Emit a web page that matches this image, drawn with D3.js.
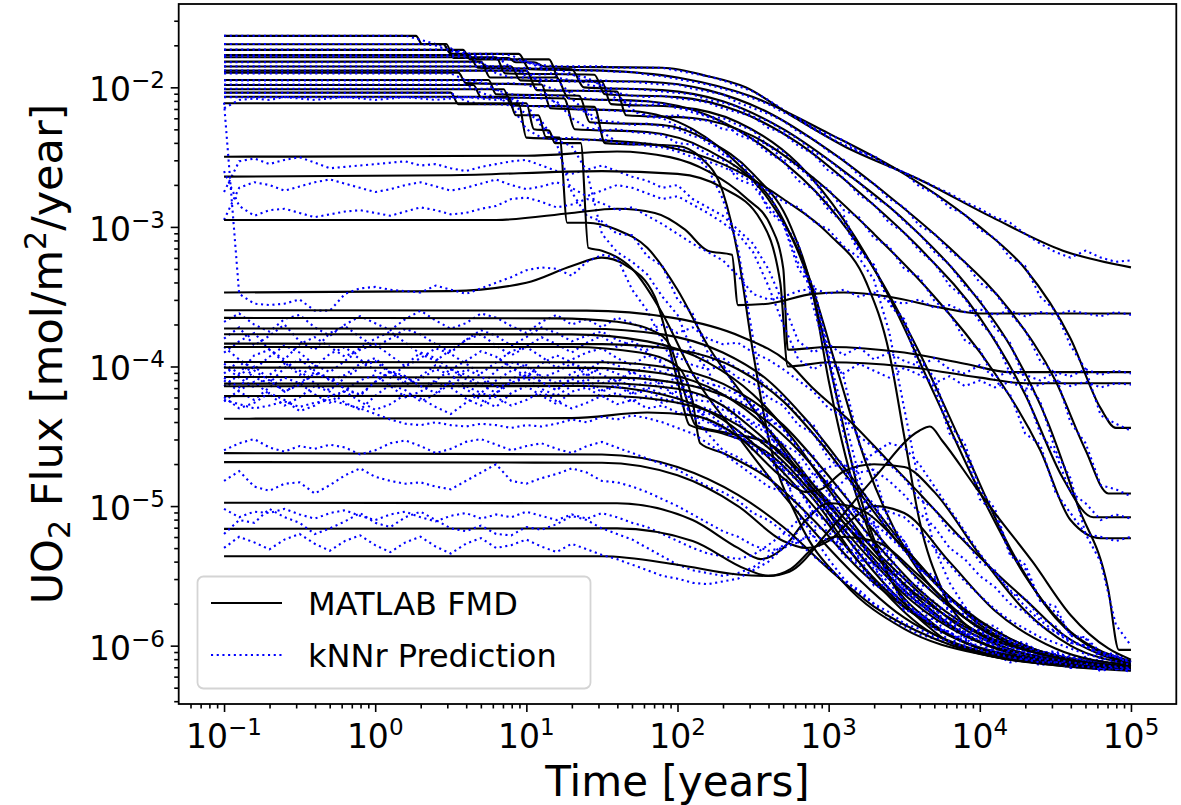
<!DOCTYPE html>
<html><head><meta charset="utf-8">
<script src="https://cdn.jsdelivr.net/npm/d3@7"></script>
<style>body{margin:0;background:#fff}svg{display:block}text{font-family:"DejaVu Sans",sans-serif;fill:#000}</style>
</head><body><svg id="c" width="1181" height="805"></svg>
<script>
// ---------- axis settings ----------
const xTickExps = [-1, 0, 1, 2, 3, 4, 5];
const yTickExps = [-6, -5, -4, -3, -2];
const xDomainLog = [-1.3, 5.3];
const yDomainLog = [-6.418, -1.403];
const xLabel = "Time [years]";
const legendLabels = ["MATLAB FMD", "kNNr Prediction"];

// ---------- kNNr prediction time grid (log10 years) ----------
const knnLogTime = [-1.0,-0.9,-0.8,-0.7,-0.6,-0.5,-0.4,-0.3,-0.2,-0.1,0.0,0.1,0.2,0.3,0.4,0.5,0.6,0.7,0.8,0.9,1.0,1.1,1.2,1.3,1.4,1.5,1.6,1.7,1.8,1.9,2.0,2.1,2.2,2.3,2.4,2.5,2.6,2.7,2.8,2.9,3.0,3.1,3.2,3.3,3.4,3.5,3.6,3.7,3.8,3.9,4.0,4.1,4.2,4.3,4.4,4.5,4.6,4.7,4.8,4.9,5.0];

// ---------- MATLAB FMD curves: [log10 years, log10 flux] ----------
const fmdHigh = [
 [[-1,-1.631],[0.27,-1.631],[0.31,-1.69],[0.47,-1.69],[0.52,-1.79],[0.88,-1.79],[0.93,-1.82],[1.05,-1.82],[1.12,-1.851],[1.9,-1.86],[2.2,-1.92],[2.45,-2.0],[2.75,-2.2],[3.1,-2.42],[3.6,-2.66],[4.08,-2.93],[4.55,-3.17],[5,-3.29]],
 [[-1,-1.691],[0.45,-1.691],[0.5,-1.76],[0.95,-1.76],[1.02,-1.87],[1.5,-1.88],[2.0,-1.93],[2.5,-2.07],[3.0,-2.33],[3.5,-2.62],[4.0,-3.0],[4.3,-3.3],[4.6,-3.8],[4.8,-4.3],[4.9,-4.44],[5,-4.44]],
 [[-1,-1.732],[0.58,-1.732],[0.63,-1.80],[1.15,-1.80],[1.22,-1.95],[1.8,-1.96],[2.2,-2.02],[2.6,-2.18],[3.0,-2.45],[3.4,-2.78],[3.8,-3.15],[4.2,-3.6],[4.5,-4.1],[4.7,-4.6],[4.85,-4.91],[5,-4.91]],
 [[-1,-1.768],[0.62,-1.768],[0.68,-1.86],[1.3,-1.87],[1.38,-2.0],[1.9,-2.02],[2.3,-2.1],[2.7,-2.3],[3.1,-2.6],[3.5,-2.95],[3.9,-3.4],[4.2,-3.85],[4.45,-4.4],[4.65,-5.0],[4.85,-5.6],[4.92,-6.03],[5,-6.03]],
 [[-1,-1.784],[0.8,-1.784],[0.86,-1.9],[1.45,-1.91],[1.52,-2.05],[2.0,-2.07],[2.4,-2.17],[2.8,-2.4],[3.2,-2.75],[3.6,-3.15],[4.0,-3.65],[4.3,-4.2],[4.55,-4.8],[4.75,-5.08],[5,-5.08]],
 [[-1,-1.816],[0.7,-1.816],[0.76,-1.93],[1.2,-1.93],[1.28,-2.08],[1.8,-2.1],[2.2,-2.2],[2.6,-2.45],[3.0,-2.85],[3.3,-3.3],[3.6,-3.9],[3.9,-4.6],[4.2,-5.3],[4.5,-5.8],[4.8,-6.05],[5,-6.12]],
 [[-1,-1.851],[0.9,-1.851],[0.96,-1.95],[1.5,-1.96],[1.56,-2.12],[2.0,-2.14],[2.4,-2.25],[2.8,-2.55],[3.1,-2.95],[3.4,-3.5],[3.7,-4.2],[4.0,-4.9],[4.3,-5.5],[4.6,-5.9],[4.9,-6.08],[5,-6.11]],
 [[-1,-1.88],[1.0,-1.88],[1.07,-2.02],[1.6,-2.03],[1.66,-2.2],[2.1,-2.22],[2.5,-2.35],[2.9,-2.65],[3.3,-3.05],[3.7,-3.5],[4.1,-4.05],[4.4,-4.6],[4.6,-5.1],[4.8,-5.23],[5,-5.23]],
 [[-1,-1.895],[0.55,-1.895],[0.6,-1.97],[1.1,-1.98],[1.16,-2.15],[1.7,-2.17],[2.1,-2.3],[2.4,-2.55],[2.7,-2.95],[2.9,-3.5],[3.05,-4.2],[3.2,-4.9],[3.4,-5.5],[3.7,-5.9],[4.1,-6.08],[4.6,-6.14],[5,-6.16]],
 [[-1,-1.947],[0.75,-1.947],[0.8,-2.05],[1.35,-2.06],[1.42,-2.25],[1.9,-2.27],[2.2,-2.38],[2.5,-2.62],[2.75,-3.0],[2.9,-3.5],[3.0,-4.1],[3.15,-4.8],[3.35,-5.4],[3.7,-5.85],[4.2,-6.07],[4.7,-6.14],[5,-6.16]],
 [[-1,-1.983],[0.65,-1.983],[0.7,-2.07],[1.25,-2.08],[1.32,-2.3],[1.8,-2.32],[2.2,-2.45],[2.6,-2.8],[2.85,-3.3],[3.05,-4.0],[3.25,-4.7],[3.5,-5.3],[3.9,-5.8],[4.3,-6.02],[4.8,-6.12],[5,-6.14]],
 [[-1,-2.014],[0.85,-2.014],[0.9,-2.13],[1.45,-2.14],[1.52,-2.4],[2.0,-2.42],[2.15,-2.5],[2.3,-2.75],[2.4,-3.2],[2.5,-3.9],[2.6,-4.5],[2.8,-5.1],[3.1,-5.55],[3.5,-5.88],[4.0,-6.06],[4.6,-6.13],[5,-6.16]],
 [[-1,-2.038],[0.5,-2.038],[0.55,-2.12],[0.95,-2.12],[1.0,-2.36],[1.5,-2.38],[1.9,-2.42],[2.3,-2.55],[2.7,-2.8],[3.0,-3.05],[3.25,-3.4],[3.4,-3.9],[3.5,-4.5],[3.6,-5.1],[3.75,-5.6],[4.0,-5.92],[4.5,-6.1],[5,-6.15]],
 [[-1,-2.067],[0.88,-2.067],[0.93,-2.2],[1.08,-2.2],[1.13,-2.357],[1.22,-2.36],[1.27,-2.97],[1.4,-2.97],[1.6,-3.02],[1.8,-3.15],[2.0,-3.45],[2.2,-3.85],[2.5,-4.3],[2.8,-4.75],[3.1,-5.2],[3.5,-5.7],[4.0,-6.02],[4.5,-6.13],[5,-6.17]],
 [[-1,-2.114],[1.0,-2.114],[1.05,-2.30],[1.15,-2.31],[1.19,-2.40],[1.36,-2.40],[1.41,-3.15],[1.5,-3.17],[1.7,-3.3],[1.9,-3.62],[2.1,-4.05],[2.4,-4.5],[2.7,-4.92],[3.0,-5.3],[3.5,-5.8],[4.0,-6.04],[4.5,-6.14],[5,-6.18]]
];
const fmdMid = [
 [[-1,-2.497],[1.0,-2.49],[1.6,-2.46],[1.95,-2.50],[2.2,-2.6],[2.45,-2.79],[2.62,-3.0],[2.70,-3.3],[2.73,-3.88],[3.0,-3.86],[3.5,-3.9],[3.9,-3.98],[4.2,-4.04],[5,-4.04]],
 [[-1,-2.64],[0.5,-2.63],[1.5,-2.60],[2.0,-2.62],[2.3,-2.72],[2.55,-2.95],[2.68,-3.4],[2.73,-4.0],[3.0,-3.97],[3.5,-4.0],[4.0,-4.08],[4.3,-4.12],[5,-4.12]],
 [[-1,-2.951],[0.8,-2.95],[1.3,-2.9],[1.6,-2.87],[1.85,-2.9],[2.05,-3.02],[2.2,-3.17],[2.36,-3.2],[2.40,-3.56],[2.6,-3.55],[2.9,-3.48],[3.1,-3.47],[3.4,-3.5],[3.75,-3.58],[4.0,-3.62],[5,-3.62]]
];
const fmdLow = [
 [[-1,-3.47],[0.5,-3.46],[1.0,-3.40],[1.3,-3.28],[1.5,-3.22],[1.65,-3.27],[1.85,-3.5],[2.0,-4.1],[2.08,-4.42],[2.3,-4.48],[2.6,-4.62],[2.9,-4.95],[3.2,-5.4],[3.6,-5.85],[4.0,-6.05],[4.5,-6.14],[5,-6.17]],
 [[-1,-3.597],[1.4,-3.60],[1.96,-3.65],[2.43,-3.79],[2.72,-3.96],[2.9,-4.16],[3.14,-4.39],[3.38,-4.66],[3.61,-4.92],[3.85,-5.2],[4.08,-5.45],[4.32,-5.69],[4.55,-5.92],[4.79,-6.06],[5,-6.13]],
 [[-1,-3.652],[1.2,-3.655],[1.6,-3.68],[1.85,-3.75],[1.95,-3.85],[2.05,-4.2],[2.12,-4.42],[2.3,-4.47],[2.6,-4.55],[2.9,-4.85],[3.2,-5.2],[3.5,-5.52],[3.85,-5.85],[4.3,-6.06],[5,-6.16]],
 [[-1,-3.728],[1.4,-3.73],[1.9,-3.77],[2.3,-3.9],[2.6,-4.1],[2.85,-4.38],[3.1,-4.72],[3.35,-5.08],[3.6,-5.42],[3.9,-5.75],[4.3,-6.0],[4.7,-6.11],[5,-6.14]],
 [[-1,-3.769],[1.3,-3.77],[1.8,-3.82],[2.2,-3.97],[2.5,-4.2],[2.75,-4.5],[3.0,-4.88],[3.25,-5.25],[3.55,-5.62],[3.9,-5.92],[4.3,-6.08],[5,-6.16]],
 [[-1,-3.836],[1.5,-3.84],[2.0,-3.88],[2.4,-4.02],[2.7,-4.25],[2.95,-4.55],[3.2,-4.9],[3.45,-5.25],[3.7,-5.55],[4.0,-5.85],[4.4,-6.05],[5,-6.14]],
 [[-1,-3.86],[1.3,-3.86],[1.75,-3.9],[2.0,-4.0],[2.1,-4.25],[2.15,-4.55],[2.3,-4.62],[2.6,-4.8],[2.9,-5.1],[3.2,-5.45],[3.6,-5.8],[4.0,-6.02],[4.5,-6.12],[5,-6.16]],
 [[-1,-3.968],[1.5,-3.97],[2.0,-4.02],[2.4,-4.18],[2.7,-4.42],[2.95,-4.72],[3.2,-5.05],[3.5,-5.42],[3.8,-5.72],[4.2,-5.98],[4.6,-6.1],[5,-6.15]],
 [[-1,-4.008],[1.4,-4.01],[1.9,-4.05],[2.3,-4.2],[2.6,-4.45],[2.85,-4.78],[3.1,-5.12],[3.4,-5.5],[3.75,-5.82],[4.2,-6.05],[4.7,-6.13],[5,-6.16]],
 [[-1,-4.075],[1.6,-4.08],[2.1,-4.14],[2.5,-4.32],[2.8,-4.6],[3.05,-4.92],[3.3,-5.25],[3.6,-5.6],[3.95,-5.88],[4.4,-6.06],[5,-6.15]],
 [[-1,-4.123],[1.5,-4.12],[2.0,-4.16],[2.3,-4.28],[2.5,-4.45],[2.75,-4.7],[3.0,-5.0],[3.3,-5.35],[3.6,-5.65],[4.0,-5.92],[4.5,-6.08],[5,-6.15]],
 [[-1,-4.142],[1.4,-4.14],[1.9,-4.2],[2.3,-4.38],[2.6,-4.65],[2.9,-5.0],[3.2,-5.4],[3.5,-5.72],[3.9,-5.98],[4.4,-6.1],[5,-6.16]],
 [[-1,-4.212],[1.5,-4.21],[2.0,-4.26],[2.4,-4.42],[2.7,-4.68],[2.95,-4.98],[3.25,-5.35],[3.55,-5.68],[3.9,-5.93],[4.4,-6.08],[5,-6.15]],
 [[-1,-4.374],[1.3,-4.37],[1.8,-4.33],[2.1,-4.35],[2.4,-4.5],[2.7,-4.8],[2.85,-4.9],[2.95,-4.88],[3.1,-4.75],[3.3,-4.7],[3.5,-4.72],[3.7,-4.9],[4.0,-5.35],[4.3,-5.75],[4.6,-6.0],[5,-6.13]],
 [[-1,-4.621],[1.5,-4.63],[2.0,-4.72],[2.4,-4.92],[2.7,-5.15],[3.0,-5.45],[3.3,-5.72],[3.7,-5.95],[4.2,-6.1],[5,-6.16]],
 [[-1,-4.685],[1.5,-4.69],[2.0,-4.78],[2.4,-5.0],[2.7,-5.25],[2.85,-5.3],[3.0,-5.25],[3.15,-5.1],[3.3,-5.0],[3.5,-5.05],[3.8,-5.4],[4.1,-5.75],[4.5,-6.02],[5,-6.14]],
 [[-1,-4.976],[1.6,-4.98],[2.1,-5.1],[2.4,-5.3],[2.55,-5.38],[2.7,-5.3],[2.85,-5.1],[3.0,-4.98],[3.2,-5.02],[3.5,-5.3],[3.8,-5.65],[4.2,-5.95],[4.6,-6.1],[5,-6.15]],
 [[-1,-5.163],[1.6,-5.16],[2.1,-5.25],[2.45,-5.45],[2.6,-5.5],[2.75,-5.45],[2.9,-5.3],[3.05,-5.22],[3.3,-5.25],[3.6,-5.5],[3.9,-5.8],[4.3,-6.03],[5,-6.15]],
 [[-1,-5.36],[1.5,-5.36],[2.0,-5.42],[2.4,-5.49],[2.6,-5.5],[2.74,-5.47],[3.0,-5.18],[3.3,-4.8],[3.6,-4.46],[3.67,-4.43],[3.75,-4.53],[3.97,-4.86],[4.1,-5.05],[4.35,-5.4],[4.6,-5.78],[4.85,-6.02],[5,-6.1]]
];

// ---------- kNNr predictions: log10 flux on knnLogTime ----------
const knnHigh = [
 [-1.63,-1.63,-1.63,-1.63,-1.63,-1.63,-1.63,-1.63,-1.63,-1.63,
  -1.63,-1.63,-1.63,-1.66,-1.69,-1.72,-1.79,-1.79,-1.79,-1.80,
  -1.82,-1.84,-1.85,-1.85,-1.85,-1.85,-1.86,-1.86,-1.86,-1.86,
  -1.88,-1.90,-1.92,-1.95,-1.99,-2.03,-2.09,-2.16,-2.23,-2.30,
  -2.36,-2.41,-2.46,-2.51,-2.56,-2.61,-2.66,-2.71,-2.76,-2.82,
  -2.87,-2.93,-2.97,-3.05,-3.12,-3.18,-3.22,-3.17,-3.22,-3.25,-3.24],
 [-1.69,-1.69,-1.69,-1.69,-1.69,-1.69,-1.69,-1.69,-1.69,-1.69,
  -1.69,-1.69,-1.69,-1.69,-1.70,-1.74,-1.76,-1.76,-1.76,-1.77,
  -1.82,-1.86,-1.87,-1.87,-1.88,-1.88,-1.89,-1.89,-1.91,-1.92,
  -1.94,-1.96,-1.98,-2.01,-2.04,-2.08,-2.12,-2.18,-2.22,-2.29,
  -2.34,-2.38,-2.46,-2.49,-2.57,-2.61,-2.71,-2.76,-2.86,-2.91,
  -3.02,-3.08,-3.22,-3.28,-3.50,-3.60,-3.85,-4.02,-4.35,-4.41,-4.46],
 [-1.73,-1.73,-1.73,-1.73,-1.73,-1.73,-1.73,-1.73,-1.73,-1.73,
  -1.73,-1.73,-1.73,-1.73,-1.73,-1.73,-1.75,-1.79,-1.80,-1.80,
  -1.81,-1.85,-1.93,-1.95,-1.96,-1.95,-1.96,-1.96,-1.97,-1.98,
  -1.98,-2.01,-2.03,-2.05,-2.11,-2.15,-2.19,-2.24,-2.32,-2.37,
  -2.46,-2.52,-2.63,-2.69,-2.80,-2.86,-2.99,-3.05,-3.17,-3.25,
  -3.40,-3.47,-3.62,-3.74,-3.96,-4.05,-4.40,-4.55,-4.85,-4.88,-4.93],
 [-1.77,-1.77,-1.77,-1.77,-1.77,-1.77,-1.77,-1.77,-1.77,-1.77,
  -1.77,-1.77,-1.77,-1.77,-1.77,-1.77,-1.77,-1.83,-1.86,-1.87,
  -1.86,-1.87,-1.87,-1.90,-1.98,-2.00,-2.01,-2.01,-2.02,-2.03,
  -2.04,-2.05,-2.09,-2.11,-2.14,-2.21,-2.24,-2.31,-2.37,-2.46,
  -2.52,-2.61,-2.68,-2.79,-2.85,-2.96,-3.05,-3.18,-3.27,-3.42,
  -3.52,-3.72,-3.83,-4.10,-4.25,-4.60,-4.80,-5.20,-5.40,-5.85,-6.00],
 [-1.78,-1.78,-1.78,-1.78,-1.78,-1.78,-1.78,-1.78,-1.78,-1.78,
  -1.78,-1.78,-1.78,-1.78,-1.78,-1.78,-1.78,-1.78,-1.78,-1.86,
  -1.90,-1.91,-1.90,-1.91,-1.93,-1.99,-2.04,-2.06,-2.07,-2.06,
  -2.08,-2.09,-2.11,-2.15,-2.18,-2.21,-2.29,-2.33,-2.42,-2.48,
  -2.60,-2.65,-2.77,-2.84,-2.97,-3.04,-3.17,-3.26,-3.42,-3.51,
  -3.68,-3.80,-4.05,-4.17,-4.48,-4.62,-4.90,-4.98,-5.10,-5.06,-5.09],
 [-1.82,-1.82,-1.82,-1.82,-1.82,-1.82,-1.82,-1.82,-1.82,-1.82,
  -1.82,-1.82,-1.82,-1.82,-1.82,-1.82,-1.82,-1.82,-1.90,-1.93,
  -1.93,-1.94,-1.95,-2.05,-2.08,-2.09,-2.09,-2.10,-2.10,-2.12,
  -2.14,-2.18,-2.21,-2.25,-2.34,-2.38,-2.47,-2.53,-2.67,-2.73,
  -2.88,-2.97,-3.18,-3.27,-3.54,-3.66,-3.95,-4.08,-4.42,-4.55,
  -4.88,-5.02,-5.34,-5.42,-5.68,-5.76,-5.92,-5.95,-6.08,-6.07,-6.13],
 [-1.85,-1.85,-1.85,-1.85,-1.85,-1.85,-1.85,-1.85,-1.85,-1.85,
  -1.85,-1.85,-1.85,-1.85,-1.85,-1.85,-1.85,-1.85,-1.85,-1.85,
  -1.92,-1.95,-1.95,-1.96,-1.95,-1.98,-2.09,-2.12,-2.13,-2.12,
  -2.15,-2.16,-2.21,-2.22,-2.27,-2.31,-2.42,-2.46,-2.58,-2.65,
  -2.85,-2.92,-3.16,-3.28,-3.55,-3.68,-4.02,-4.15,-4.48,-4.60,
  -4.95,-5.05,-5.35,-5.45,-5.68,-5.72,-5.93,-5.94,-6.05,-6.06,-6.12],
 [-1.88,-1.88,-1.88,-1.88,-1.88,-1.88,-1.88,-1.88,-1.88,-1.88,
  -1.88,-1.88,-1.88,-1.88,-1.88,-1.88,-1.88,-1.88,-1.88,-1.88,
  -1.88,-1.98,-2.02,-2.03,-2.02,-2.03,-2.05,-2.16,-2.20,-2.21,
  -2.20,-2.23,-2.24,-2.30,-2.31,-2.37,-2.41,-2.52,-2.55,-2.68,
  -2.73,-2.88,-2.93,-3.08,-3.14,-3.30,-3.36,-3.53,-3.62,-3.81,
  -3.88,-4.10,-4.20,-4.48,-4.56,-4.90,-5.05,-5.20,-5.22,-5.25,-5.22],
 [-1.90,-1.90,-1.90,-1.90,-1.90,-1.90,-1.90,-1.90,-1.90,-1.90,
  -1.90,-1.90,-1.90,-1.90,-1.90,-1.90,-1.95,-1.97,-1.98,-1.97,
  -1.98,-2.02,-2.12,-2.15,-2.16,-2.16,-2.17,-2.17,-2.21,-2.22,
  -2.28,-2.31,-2.40,-2.45,-2.60,-2.64,-2.88,-2.98,-3.30,-3.45,
  -3.92,-4.35,-4.78,-5.12,-5.38,-5.60,-5.72,-5.86,-5.97,-5.96,
  -6.05,-6.06,-6.12,-6.10,-6.14,-6.12,-6.16,-6.13,-6.17,-6.15,-6.16],
 [-1.95,-1.95,-1.95,-1.95,-1.95,-1.95,-1.95,-1.95,-1.95,-1.95,
  -1.95,-1.95,-1.95,-1.95,-1.95,-1.95,-1.95,-1.95,-2.02,-2.05,
  -2.06,-2.05,-2.06,-2.08,-2.18,-2.24,-2.25,-2.27,-2.26,-2.28,
  -2.30,-2.35,-2.37,-2.48,-2.52,-2.66,-2.74,-2.98,-3.12,-3.58,
  -3.95,-4.48,-4.86,-5.18,-5.40,-5.58,-5.68,-5.82,-5.86,-5.95,
  -5.97,-6.04,-6.05,-6.10,-6.09,-6.13,-6.12,-6.15,-6.14,-6.17,-6.16],
 [-1.98,-1.98,-1.98,-1.98,-1.98,-1.98,-1.98,-1.98,-1.98,-1.98,
  -1.98,-1.98,-1.98,-1.98,-1.98,-1.98,-1.98,-2.04,-2.07,-2.08,
  -2.07,-2.08,-2.10,-2.22,-2.29,-2.31,-2.30,-2.32,-2.33,-2.34,
  -2.40,-2.41,-2.48,-2.52,-2.66,-2.70,-2.85,-2.97,-3.26,-3.42,
  -3.88,-4.08,-4.55,-4.76,-5.12,-5.25,-5.46,-5.52,-5.72,-5.78,
  -5.90,-5.89,-6.00,-6.01,-6.07,-6.06,-6.11,-6.09,-6.13,-6.12,-6.15],
 [-2.01,-2.01,-2.01,-2.01,-2.01,-2.01,-2.01,-2.01,-2.01,-2.01,
  -2.01,-2.01,-2.01,-2.01,-2.01,-2.01,-2.01,-2.01,-2.01,-2.10,
  -2.13,-2.14,-2.13,-2.14,-2.18,-2.32,-2.39,-2.41,-2.40,-2.42,
  -2.43,-2.47,-2.58,-2.80,-3.15,-3.80,-4.40,-4.75,-5.05,-5.22,
  -5.38,-5.52,-5.62,-5.70,-5.80,-5.86,-5.92,-5.95,-5.99,-6.02,
  -6.05,-6.06,-6.09,-6.10,-6.12,-6.11,-6.14,-6.13,-6.15,-6.14,-6.16],
 [-2.04,-2.04,-2.04,-2.04,-2.04,-2.04,-2.04,-2.04,-2.04,-2.04,
  -2.04,-2.04,-2.04,-2.04,-2.04,-2.04,-2.10,-2.12,-2.12,-2.13,
  -2.30,-2.36,-2.37,-2.36,-2.38,-2.37,-2.40,-2.40,-2.42,-2.43,
  -2.46,-2.50,-2.53,-2.57,-2.62,-2.68,-2.74,-2.82,-2.86,-2.96,
  -3.02,-3.14,-3.22,-3.38,-3.75,-4.30,-4.85,-5.30,-5.55,-5.72,
  -5.88,-5.95,-6.01,-6.04,-6.08,-6.09,-6.12,-6.11,-6.14,-6.13,-6.16],
 [-2.07,-2.07,-2.07,-2.07,-2.07,-2.07,-2.07,-2.07,-2.07,-2.07,
  -2.07,-2.07,-2.07,-2.07,-2.07,-2.07,-2.07,-2.07,-2.07,-2.12,
  -2.19,-2.24,-2.40,-2.75,-2.92,-2.96,-3.05,-3.06,-3.21,-3.28,
  -3.52,-3.62,-3.90,-3.98,-4.20,-4.26,-4.51,-4.56,-4.80,-4.86,
  -5.10,-5.15,-5.38,-5.42,-5.62,-5.66,-5.80,-5.81,-5.93,-5.94,
  -6.04,-6.03,-6.09,-6.08,-6.12,-6.11,-6.15,-6.13,-6.17,-6.15,-6.18],
 [-2.15,-2.09,-2.08,-2.09,-2.07,-2.08,-2.09,-2.08,-2.07,-2.08,
  -2.09,-2.08,-2.07,-2.08,-2.09,-2.08,-2.07,-2.08,-2.09,-2.08,
  -2.12,-2.28,-2.38,-2.42,-2.60,-3.05,-3.18,-3.25,-3.34,-3.50,
  -3.63,-3.90,-4.02,-4.28,-4.38,-4.56,-4.62,-4.82,-4.88,-5.05,
  -5.12,-5.35,-5.40,-5.55,-5.60,-5.72,-5.78,-5.88,-5.90,-5.98,
  -6.02,-6.05,-6.09,-6.10,-6.13,-6.12,-6.16,-6.15,-6.18,-6.16,-6.19]
];
const knnMid = [
 [-2.75,-2.53,-2.51,-2.55,-2.52,-2.50,-2.54,-2.58,-2.57,-2.56,
  -2.55,-2.54,-2.53,-2.56,-2.55,-2.58,-2.60,-2.57,-2.55,-2.53,
  -2.52,-2.56,-2.60,-2.62,-2.59,-2.56,-2.60,-2.64,-2.67,-2.72,
  -2.70,-2.80,-2.86,-2.92,-3.02,-3.12,-3.30,-3.55,-3.82,-3.90,
  -3.84,-3.92,-3.86,-3.95,-3.90,-3.96,-4.00,-3.94,-4.02,-4.05,
  -3.99,-4.08,-4.03,-4.06,-4.10,-4.04,-4.07,-4.02,-4.06,-4.03,-4.05],
 [-2.95,-2.72,-2.68,-2.70,-2.74,-2.71,-2.68,-2.66,-2.69,-2.72,
  -2.75,-2.73,-2.70,-2.68,-2.71,-2.74,-2.72,-2.69,-2.66,-2.70,
  -2.73,-2.71,-2.68,-2.72,-2.78,-2.74,-2.70,-2.72,-2.76,-2.80,
  -2.78,-2.84,-2.90,-2.97,-3.05,-3.18,-3.42,-3.70,-3.95,-4.02,
  -3.96,-4.05,-3.98,-4.03,-4.08,-4.01,-4.06,-4.12,-4.07,-4.14,
  -4.10,-4.15,-4.11,-4.16,-4.13,-4.10,-4.14,-4.11,-4.15,-4.12,-4.13],
 [-2.60,-2.85,-2.92,-2.88,-2.87,-2.90,-2.93,-2.91,-2.89,-2.88,
  -2.90,-2.92,-2.89,-2.86,-2.88,-2.91,-2.90,-2.87,-2.85,-2.80,
  -2.79,-2.82,-2.86,-2.84,-2.80,-2.83,-2.88,-2.86,-2.92,-2.98,
  -3.05,-3.12,-3.18,-3.24,-3.35,-3.48,-3.52,-3.50,-3.46,-3.44,
  -3.48,-3.45,-3.50,-3.47,-3.53,-3.55,-3.52,-3.58,-3.56,-3.61,
  -3.59,-3.63,-3.60,-3.64,-3.61,-3.63,-3.60,-3.62,-3.64,-3.61,-3.63]
];
const knnLow = [
 [-2.11,-3.48,-3.55,-3.56,-3.55,-3.52,-3.60,-3.60,-3.48,-3.44,
  -3.43,-3.45,-3.46,-3.47,-3.42,-3.45,-3.48,-3.44,-3.40,-3.36,
  -3.31,-3.29,-3.30,-3.35,-3.25,-3.20,-3.22,-3.45,-3.60,-3.82,
  -4.05,-4.28,-4.38,-4.47,-4.52,-4.55,-4.63,-4.72,-4.80,-4.92,
  -5.02,-5.20,-5.32,-5.45,-5.55,-5.68,-5.78,-5.85,-5.92,-5.96,
  -6.02,-6.04,-6.08,-6.10,-6.12,-6.13,-6.15,-6.14,-6.17,-6.16,-6.18],
 [-3.68,-3.62,-3.70,-3.75,-3.66,-3.63,-3.72,-3.78,-3.70,-3.64,
  -3.69,-3.74,-3.66,-3.60,-3.67,-3.73,-3.69,-3.62,-3.65,-3.71,
  -3.76,-3.68,-3.63,-3.70,-3.66,-3.72,-3.65,-3.69,-3.74,-3.70,
  -3.76,-3.72,-3.80,-3.84,-3.83,-3.90,-3.95,-4.02,-4.10,-4.18,
  -4.30,-4.36,-4.50,-4.58,-4.70,-4.80,-4.95,-5.02,-5.18,-5.24,
  -5.40,-5.46,-5.62,-5.66,-5.80,-5.86,-5.98,-6.00,-6.08,-6.07,-6.14],
 [-3.80,-3.72,-3.85,-3.78,-3.70,-3.82,-3.88,-3.76,-3.71,-3.79,
  -3.86,-3.80,-3.73,-3.77,-3.84,-3.90,-3.81,-3.74,-3.78,-3.85,
  -3.79,-3.72,-3.76,-3.82,-3.78,-3.75,-3.81,-3.85,-3.90,-3.98,
  -4.10,-4.25,-4.38,-4.45,-4.52,-4.50,-4.58,-4.62,-4.78,-4.82,
  -5.00,-5.05,-5.24,-5.28,-5.45,-5.50,-5.65,-5.68,-5.83,-5.86,
  -5.95,-5.97,-6.04,-6.05,-6.09,-6.08,-6.12,-6.11,-6.15,-6.13,-6.16],
 [-3.90,-3.82,-3.76,-3.88,-3.95,-3.84,-3.79,-3.86,-3.93,-3.87,
  -3.80,-3.75,-3.83,-3.91,-3.96,-3.88,-3.81,-3.77,-3.85,-3.92,
  -3.86,-3.79,-3.84,-3.90,-3.83,-3.78,-3.86,-3.82,-3.88,-3.84,
  -3.91,-3.88,-3.96,-3.94,-4.02,-4.06,-4.15,-4.22,-4.36,-4.42,
  -4.62,-4.70,-4.90,-4.98,-5.18,-5.25,-5.45,-5.50,-5.68,-5.72,
  -5.84,-5.86,-5.96,-5.98,-6.05,-6.04,-6.09,-6.08,-6.13,-6.11,-6.15],
 [-3.98,-4.05,-3.92,-3.88,-3.97,-4.06,-4.00,-3.91,-3.86,-3.95,
  -4.03,-4.08,-3.99,-3.90,-3.94,-4.02,-3.96,-3.89,-3.93,-4.01,
  -4.07,-3.98,-3.92,-3.97,-4.03,-3.96,-3.99,-4.05,-4.00,-4.04,
  -4.08,-4.06,-4.12,-4.15,-4.20,-4.28,-4.36,-4.45,-4.60,-4.70,
  -4.92,-5.00,-5.22,-5.28,-5.48,-5.54,-5.70,-5.73,-5.87,-5.90,
  -5.98,-5.99,-6.06,-6.07,-6.11,-6.10,-6.13,-6.12,-6.16,-6.14,-6.17],
 [-3.86,-3.95,-4.02,-3.93,-3.85,-3.90,-3.99,-4.04,-3.96,-3.88,
  -3.84,-3.92,-4.00,-3.94,-3.87,-3.91,-3.98,-4.05,-3.97,-3.89,
  -3.86,-3.93,-4.01,-3.95,-3.90,-3.87,-3.94,-3.99,-3.92,-3.96,
  -3.93,-3.99,-4.02,-4.00,-4.08,-4.12,-4.22,-4.28,-4.42,-4.48,
  -4.66,-4.74,-4.94,-5.00,-5.22,-5.28,-5.46,-5.52,-5.68,-5.73,
  -5.87,-5.89,-5.97,-5.99,-6.06,-6.06,-6.10,-6.09,-6.13,-6.12,-6.15],
 [-4.05,-3.96,-4.08,-4.12,-4.01,-3.95,-4.03,-4.10,-4.06,-3.98,
  -3.94,-4.04,-4.11,-4.07,-3.99,-4.02,-4.09,-4.14,-4.03,-3.97,
  -4.00,-4.08,-4.04,-3.98,-4.06,-4.01,-4.05,-4.10,-4.06,-4.14,
  -4.22,-4.35,-4.48,-4.60,-4.65,-4.72,-4.78,-4.92,-4.97,-5.14,
  -5.18,-5.36,-5.42,-5.57,-5.60,-5.74,-5.78,-5.88,-5.90,-5.98,
  -6.02,-6.05,-6.06,-6.10,-6.09,-6.12,-6.13,-6.15,-6.14,-6.17,-6.16],
 [-4.00,-4.08,-4.15,-4.06,-3.98,-4.03,-4.12,-4.17,-4.08,-4.01,
  -3.96,-4.05,-4.13,-4.09,-4.02,-4.06,-4.14,-4.19,-4.10,-4.03,
  -3.99,-4.07,-4.12,-4.05,-4.00,-4.06,-4.11,-4.04,-4.09,-4.12,
  -4.08,-4.14,-4.16,-4.20,-4.24,-4.30,-4.38,-4.45,-4.58,-4.64,
  -4.84,-4.90,-5.10,-5.14,-5.34,-5.40,-5.56,-5.60,-5.75,-5.78,
  -5.88,-5.91,-6.00,-6.01,-6.06,-6.05,-6.10,-6.09,-6.13,-6.12,-6.15],
 [-4.14,-4.06,-4.00,-4.09,-4.18,-4.12,-4.04,-4.08,-4.16,-4.21,
  -4.11,-4.03,-4.07,-4.15,-4.10,-4.02,-4.06,-4.13,-4.19,-4.09,
  -4.04,-4.11,-4.17,-4.08,-4.05,-4.12,-4.09,-4.15,-4.11,-4.16,
  -4.13,-4.20,-4.22,-4.28,-4.32,-4.42,-4.48,-4.62,-4.68,-4.90,
  -4.95,-5.16,-5.21,-5.42,-5.46,-5.62,-5.65,-5.80,-5.82,-5.92,
  -5.93,-6.01,-6.03,-6.08,-6.07,-6.11,-6.10,-6.14,-6.13,-6.16,-6.15],
 [-4.10,-4.18,-4.24,-4.15,-4.08,-4.12,-4.20,-4.26,-4.17,-4.10,
  -4.06,-4.14,-4.22,-4.18,-4.11,-4.15,-4.23,-4.28,-4.19,-4.12,
  -4.08,-4.16,-4.21,-4.14,-4.09,-4.17,-4.13,-4.19,-4.15,-4.20,
  -4.18,-4.24,-4.25,-4.31,-4.33,-4.40,-4.45,-4.56,-4.62,-4.78,
  -4.84,-5.04,-5.10,-5.30,-5.35,-5.52,-5.58,-5.72,-5.74,-5.87,
  -5.89,-5.96,-5.97,-6.04,-6.05,-6.09,-6.08,-6.12,-6.11,-6.15,-6.14],
 [-4.25,-4.17,-4.11,-4.20,-4.28,-4.22,-4.14,-4.18,-4.26,-4.31,
  -4.21,-4.13,-4.17,-4.25,-4.20,-4.12,-4.16,-4.24,-4.29,-4.19,
  -4.14,-4.21,-4.27,-4.18,-4.15,-4.22,-4.19,-4.25,-4.21,-4.26,
  -4.23,-4.28,-4.30,-4.35,-4.40,-4.50,-4.55,-4.70,-4.74,-4.92,
  -4.98,-5.16,-5.20,-5.40,-5.44,-5.58,-5.62,-5.76,-5.78,-5.88,
  -5.90,-5.97,-5.98,-6.03,-6.04,-6.08,-6.07,-6.11,-6.10,-6.15,-6.14],
 [-4.08,-4.15,-4.03,-4.10,-4.18,-4.13,-4.05,-4.09,-4.16,-4.20,
  -4.11,-4.04,-4.08,-4.14,-4.19,-4.10,-4.02,-4.07,-4.15,-4.12,
  -4.06,-4.11,-4.17,-4.09,-4.13,-4.18,-4.14,-4.20,-4.17,-4.23,
  -4.26,-4.32,-4.33,-4.42,-4.46,-4.60,-4.64,-4.82,-4.86,-5.05,
  -5.10,-5.32,-5.36,-5.55,-5.58,-5.75,-5.76,-5.88,-5.90,-6.00,
  -5.99,-6.05,-6.04,-6.09,-6.10,-6.12,-6.11,-6.14,-6.13,-6.17,-6.15],
 [-4.22,-4.30,-4.26,-4.19,-4.24,-4.32,-4.28,-4.21,-4.18,-4.25,
  -4.31,-4.27,-4.20,-4.23,-4.29,-4.34,-4.26,-4.19,-4.22,-4.28,
  -4.24,-4.18,-4.25,-4.30,-4.26,-4.21,-4.27,-4.24,-4.30,-4.28,
  -4.33,-4.35,-4.40,-4.44,-4.48,-4.58,-4.64,-4.74,-4.82,-4.95,
  -5.04,-5.18,-5.26,-5.40,-5.48,-5.62,-5.70,-5.78,-5.84,-5.90,
  -5.94,-5.98,-6.01,-6.04,-6.07,-6.08,-6.10,-6.12,-6.13,-6.15,-6.14],
 [-4.24,-4.27,-4.30,-4.28,-4.25,-4.29,-4.26,-4.24,-4.27,-4.30,
  -4.34,-4.38,-4.41,-4.42,-4.40,-4.42,-4.43,-4.41,-4.42,-4.44,
  -4.42,-4.43,-4.41,-4.38,-4.40,-4.36,-4.38,-4.35,-4.37,-4.40,
  -4.44,-4.48,-4.55,-4.62,-4.70,-4.78,-4.86,-4.90,-4.84,-4.78,
  -4.72,-4.70,-4.76,-4.74,-4.82,-4.92,-5.05,-5.15,-5.30,-5.38,
  -5.50,-5.58,-5.70,-5.76,-5.86,-5.90,-5.98,-6.00,-6.06,-6.08,-6.12],
 [-4.60,-4.55,-4.52,-4.58,-4.61,-4.57,-4.59,-4.56,-4.58,-4.63,
  -4.60,-4.55,-4.53,-4.57,-4.62,-4.59,-4.54,-4.52,-4.56,-4.60,
  -4.57,-4.55,-4.59,-4.62,-4.57,-4.54,-4.58,-4.62,-4.66,-4.70,
  -4.74,-4.80,-4.86,-4.90,-4.96,-5.05,-5.10,-5.18,-5.26,-5.36,
  -5.44,-5.54,-5.60,-5.70,-5.76,-5.84,-5.88,-5.94,-5.97,-6.01,
  -6.03,-6.06,-6.08,-6.10,-6.12,-6.12,-6.14,-6.15,-6.16,-6.15,-6.17],
 [-4.82,-4.75,-4.86,-4.89,-4.84,-4.83,-4.91,-4.85,-4.78,-4.73,
  -4.79,-4.82,-4.84,-4.83,-4.86,-4.88,-4.82,-4.76,-4.70,-4.82,
  -4.84,-4.80,-4.77,-4.73,-4.76,-4.82,-4.83,-4.86,-4.90,-4.95,
  -5.00,-5.06,-5.12,-5.18,-5.22,-5.28,-5.32,-5.30,-5.26,-5.18,
  -5.12,-5.06,-5.02,-5.00,-5.04,-5.08,-5.18,-5.30,-5.42,-5.54,
  -5.64,-5.74,-5.82,-5.88,-5.94,-5.98,-6.02,-6.06,-6.09,-6.11,-6.14],
 [-5.02,-5.08,-5.04,-5.05,-5.02,-5.06,-5.09,-5.05,-5.03,-5.07,
  -5.10,-5.06,-5.04,-5.08,-5.11,-5.07,-5.05,-5.09,-5.06,-5.08,
  -5.04,-5.07,-5.10,-5.06,-5.09,-5.05,-5.08,-5.12,-5.15,-5.20,
  -5.25,-5.30,-5.34,-5.36,-5.38,-5.35,-5.28,-5.20,-5.10,-5.04,
  -5.00,-5.02,-5.05,-5.12,-5.22,-5.32,-5.44,-5.55,-5.66,-5.76,
  -5.84,-5.90,-5.96,-6.00,-6.04,-6.07,-6.10,-6.11,-6.13,-6.14,-6.16],
 [-5.20,-5.10,-5.12,-5.02,-5.08,-5.12,-5.20,-5.16,-5.11,-5.05,
  -5.12,-5.15,-5.08,-5.04,-5.10,-5.16,-5.18,-5.14,-5.20,-5.21,
  -5.15,-5.17,-5.13,-5.07,-5.10,-5.16,-5.20,-5.24,-5.30,-5.36,
  -5.42,-5.46,-5.48,-5.50,-5.48,-5.44,-5.36,-5.28,-5.24,-5.22,
  -5.24,-5.28,-5.35,-5.42,-5.52,-5.60,-5.70,-5.78,-5.86,-5.92,
  -5.96,-6.00,-6.04,-6.06,-6.09,-6.10,-6.12,-6.13,-6.14,-6.15,-6.16],
 [-5.30,-5.22,-5.26,-5.31,-5.24,-5.20,-5.27,-5.32,-5.25,-5.21,
  -5.28,-5.33,-5.26,-5.22,-5.29,-5.34,-5.27,-5.23,-5.30,-5.28,
  -5.24,-5.29,-5.33,-5.27,-5.31,-5.35,-5.38,-5.42,-5.46,-5.50,
  -5.52,-5.55,-5.56,-5.54,-5.52,-5.46,-5.40,-5.30,-5.18,-5.05,
  -4.92,-4.82,-4.70,-4.62,-4.55,-4.58,-4.70,-4.86,-5.02,-5.18,
  -5.34,-5.48,-5.60,-5.72,-5.82,-5.90,-5.96,-6.01,-6.05,-6.08,-6.11]
];

// ---------- drawing ----------
const W = 1181, H = 805;
const plot = {left: 178.7, right: 1176.3, top: 4, bottom: 704};
const p10 = v => Math.pow(10, v);
const x = d3.scaleLog().domain(xDomainLog.map(p10)).range([plot.left, plot.right]);
const y = d3.scaleLog().domain(yDomainLog.map(p10)).range([plot.bottom, plot.top]);

const svg = d3.select('#c');
svg.append('rect').attr('width', W).attr('height', H).attr('fill', '#fff');
svg.append('defs').append('clipPath').attr('id', 'pc').append('rect')
  .attr('x', plot.left).attr('y', plot.top)
  .attr('width', plot.right - plot.left).attr('height', plot.bottom - plot.top);

const fmdLine = d3.line().x(d => x(p10(d[0]))).y(d => y(p10(d[1]))).curve(d3.curveMonotoneX);
const knnLine = d3.line().x((d, i) => x(p10(knnLogTime[i]))).y(d => y(p10(d)));

const gLines = svg.append('g').attr('clip-path', 'url(#pc)');
const pairs = [];
fmdHigh.forEach((f, i) => pairs.push([f, knnHigh[i]]));
fmdMid.forEach((f, i) => pairs.push([f, knnMid[i]]));
fmdLow.forEach((f, i) => pairs.push([f, knnLow[i]]));
const BLACK_W = 2.1, BLUE_W = 2.1, DASH = '2.1,3.6';
pairs.forEach(([f, k]) => {
  gLines.append('path').attr('d', fmdLine(f)).attr('fill', 'none')
    .attr('stroke', '#000').attr('stroke-width', BLACK_W).attr('stroke-linejoin', 'round');
  gLines.append('path').attr('d', knnLine(k.slice(0, knnLogTime.length))).attr('fill', 'none')
    .attr('stroke', '#0000ff').attr('stroke-width', BLUE_W).attr('stroke-dasharray', DASH);
});

// axes ticks
const isMajor = v => Math.abs(Math.log10(v) - Math.round(Math.log10(v))) < 1e-9;
const xAll = x.ticks(), yAll = y.ticks();
function tickAxis(axisFn, scale, vals, size, tf) {
  const g = svg.append('g').attr('transform', tf)
    .call(axisFn(scale).tickValues(vals).tickSize(size).tickFormat(''));
  g.select('.domain').remove();
  g.selectAll('line').attr('stroke', '#000').attr('stroke-width', 1.6);
  return g;
}
tickAxis(d3.axisBottom, x, xAll.filter(v => !isMajor(v)), 4.5, `translate(0,${plot.bottom})`);
tickAxis(d3.axisBottom, x, xTickExps.map(p10), 8, `translate(0,${plot.bottom})`);
tickAxis(d3.axisLeft, y, yAll.filter(v => !isMajor(v)), 4.5, `translate(${plot.left},0)`);
tickAxis(d3.axisLeft, y, yTickExps.map(p10), 8, `translate(${plot.left},0)`);

// frame
svg.append('rect').attr('x', plot.left).attr('y', plot.top)
  .attr('width', plot.right - plot.left).attr('height', plot.bottom - plot.top)
  .attr('fill', 'none').attr('stroke', '#000').attr('stroke-width', 1.8);

// tick labels
const supTxt = e => (e < 0 ? '\u2212' : '') + Math.abs(e);
xTickExps.forEach(e => {
  const t = svg.append('text').attr('x', x(p10(e))).attr('y', 748)
    .attr('text-anchor', 'middle').attr('font-size', 33);
  t.append('tspan').text('10');
  t.append('tspan').attr('dy', -13).attr('font-size', 23).text(supTxt(e));
});
yTickExps.forEach(e => {
  const t = svg.append('text').attr('x', 165).attr('y', y(p10(e)) + 14)
    .attr('text-anchor', 'end').attr('font-size', 33);
  t.append('tspan').text('10');
  t.append('tspan').attr('dy', -13).attr('font-size', 23).text(supTxt(e));
});

// axis labels
svg.append('text').attr('x', (plot.left + plot.right) / 2).attr('y', 796)
  .attr('text-anchor', 'middle').attr('font-size', 42).text(xLabel);
const ylg = svg.append('g')
  .attr('transform', `translate(62,${(plot.top + plot.bottom) / 2}) rotate(-90)`);
const yl = ylg.append('text').attr('x', 0).attr('y', 0).attr('font-size', 43);
yl.append('tspan').text('UO');
yl.append('tspan').attr('dy', 8).attr('font-size', 30).text('2');
yl.append('tspan').attr('dy', -8).text(' Flux [mol/m');
yl.append('tspan').attr('dy', -16).attr('font-size', 30).text('2');
yl.append('tspan').attr('dy', 16).text('/year]');
const ylLen = yl.node().getComputedTextLength();
yl.attr('x', -ylLen / 2);

// legend
const lg = svg.append('g');
lg.append('rect').attr('x', 197.5).attr('y', 576.5).attr('width', 393).attr('height', 112)
  .attr('rx', 6).attr('fill', '#fff').attr('fill-opacity', 0.8)
  .attr('stroke', '#d4d4d4').attr('stroke-width', 1.8);
lg.append('line').attr('x1', 211).attr('x2', 282).attr('y1', 603).attr('y2', 603)
  .attr('stroke', '#000').attr('stroke-width', BLACK_W);
lg.append('line').attr('x1', 211).attr('x2', 282).attr('y1', 655).attr('y2', 655)
  .attr('stroke', '#0000ff').attr('stroke-width', BLUE_W).attr('stroke-dasharray', DASH);
lg.append('text').attr('x', 308).attr('y', 615).attr('font-size', 32).text(legendLabels[0]);
lg.append('text').attr('x', 308).attr('y', 667).attr('font-size', 32).text(legendLabels[1]);
</script></body></html>
